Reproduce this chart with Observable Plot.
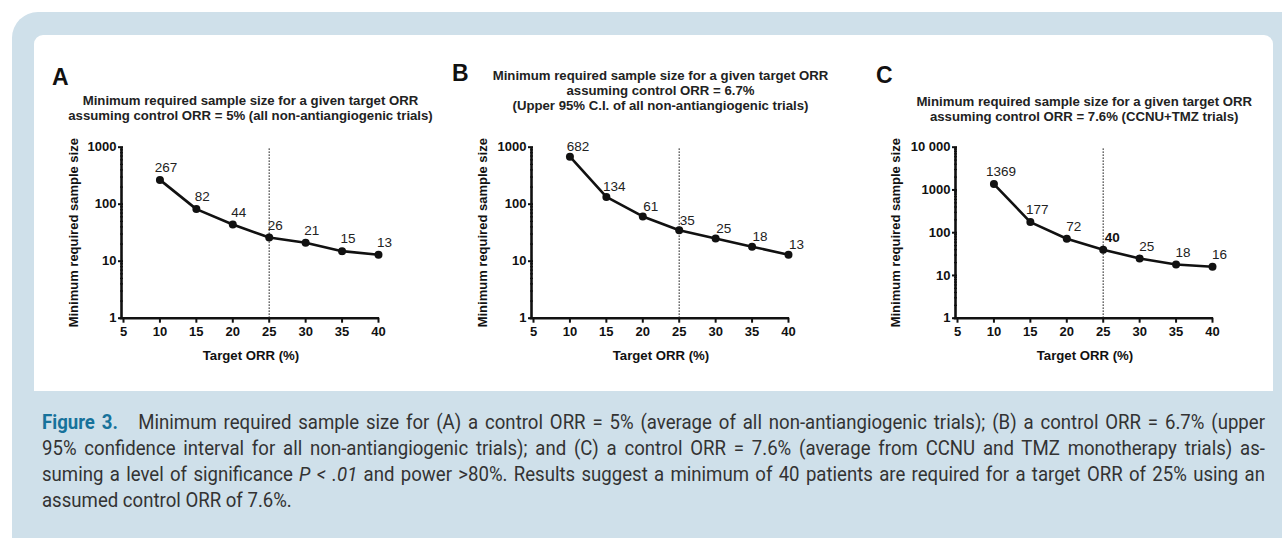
<!DOCTYPE html>
<html><head><meta charset="utf-8">
<script src="https://cdn.jsdelivr.net/npm/d3@7"></script>
<script src="https://cdn.jsdelivr.net/npm/@observablehq/plot@0.6"></script>
<style>
html,body{margin:0;padding:0;width:1282px;height:538px;overflow:hidden;background:#fff;font-family:"Liberation Sans",Arial,sans-serif;}
#bg{position:absolute;left:12px;top:12px;width:1300px;height:560px;background:#cfe0ea;border-radius:26px;}
#panel{position:absolute;left:34px;top:35px;width:1239px;height:356px;background:#fff;border-radius:9px 9px 0 0;}
.letter{position:absolute;font-weight:bold;font-size:23px;line-height:22px;color:#111;}
.title{position:absolute;font-weight:bold;font-size:13.2px;line-height:15px;text-align:center;color:#222;white-space:nowrap;transform:translateX(-50%);}
.chart{position:absolute;top:120px;}
#caption{position:absolute;left:42px;top:409px;width:1315px;font-family:Roboto,"Liberation Sans",sans-serif;font-size:20px;line-height:26px;color:#333;transform:scaleX(0.93);transform-origin:0 0;}
#caption div{white-space:nowrap;text-align:justify;text-align-last:justify;}
#caption div.last{text-align-last:left;}
#caption .fig{color:#17729b;font-weight:bold;margin-right:22px;}
</style>
</head><body>
<div id="bg"></div>
<div id="panel"></div>
<div id="root"></div>
<div id="caption"></div>
<script>
// ---- data ----
const targetORR = [10, 15, 20, 25, 30, 35, 40];
const sampleA = [267, 82, 44, 26, 21, 15, 13];
const sampleB = [682, 134, 61, 35, 25, 18, 13];
const sampleC = [1369, 177, 72, 40, 25, 18, 16];
const xTicks = [5, 10, 15, 20, 25, 30, 35, 40];
const yTicksAB = [1, 10, 100, 1000];
const yTickLabelsAB = ["1", "10", "100", "1000"];
const yTicksC = [1, 10, 100, 1000, 10000];
const yTickLabelsC = ["1", "10", "100", "1000", "10 000"];
const thresholdORR = 25;
const xTitle = "Target ORR (%)";
const yTitle = "Minimum required sample size";
const titlesA = ["Minimum required sample size for a given target ORR", "assuming control ORR = 5% (all non-antiangiogenic trials)"];
const titlesB = ["Minimum required sample size for a given target ORR", "assuming control ORR = 6.7%", "(Upper 95% C.I. of all non-antiangiogenic trials)"];
const titlesC = ["Minimum required sample size for a given target ORR", "assuming control ORR = 7.6% (CCNU+TMZ trials)"];
const captionLines = [
  ["Figure 3.", "Minimum required sample size for (A) a control ORR = 5% (average of all non-antiangiogenic trials); (B) a control ORR = 6.7% (upper"],
  [null, "95% confidence interval for all non-antiangiogenic trials); and (C) a control ORR = 7.6% (average from CCNU and TMZ monotherapy trials) as-"],
  [null, "suming a level of significance <i>P</i> <i>&lt; .01</i> and power &gt;80%. Results suggest a minimum of 40 patients are required for a target ORR of 25% using an"],
  [null, "assumed control ORR of 7.6%."]
];

const panels = [
  {letter: "A", values: sampleA, titles: titlesA, yTicks: yTicksAB, yLabels: yTickLabelsAB,
   plotLeft: 123, letterPos: [52, 66], titleTop: 92.5, yTitleDx: -50, lab: [6, -12], bold: null},
  {letter: "B", values: sampleB, titles: titlesB, yTicks: yTicksAB, yLabels: yTickLabelsAB,
   plotLeft: 533, letterPos: [452, 62], titleTop: 67.5, yTitleDx: -51, lab: [8, -10], bold: null},
  {letter: "C", values: sampleC, titles: titlesC, yTicks: yTicksC, yLabels: yTickLabelsC,
   plotLeft: 956.7, letterPos: [876, 64], titleTop: 93.5, yTitleDx: -62, lab: [7, -12], bold: 25}
];

const root = document.getElementById("root");
const ML = 95, MR = 40, W = 390, H = 260, MT = 26.7, MB = 62.3;

for (const p of panels) {
  const rows = targetORR.map((x, i) => ({orr: x, n: p.values[i]}));
  const ymax = p.yTicks[p.yTicks.length - 1];
  const minor = [];
  for (let d = 1; d < ymax; d *= 10) for (let k = 2; k <= 9; k++) minor.push(d * k);

  const letter = document.createElement("div");
  letter.className = "letter";
  letter.style.left = p.letterPos[0] + "px";
  letter.style.top = p.letterPos[1] + "px";
  letter.textContent = p.letter;
  root.appendChild(letter);

  const title = document.createElement("div");
  title.className = "title";
  title.style.left = (p.plotLeft + 127.5) + "px";
  title.style.top = p.titleTop + "px";
  title.innerHTML = p.titles.join("<br>");
  root.appendChild(title);

  const labelFormat = new Map(p.yTicks.map((t, i) => [t, p.yLabels[i]]));
  const chart = Plot.plot({
    width: W, height: H,
    marginLeft: ML, marginRight: MR, marginTop: MT, marginBottom: MB,
    style: {fontFamily: "'Liberation Sans', Arial, sans-serif", color: "#111", background: "transparent", overflow: "visible"},
    x: {domain: [5, 40]},
    y: {type: "log", domain: [1, ymax]},
    marks: [
      Plot.axisY(minor, {tickSize: 3, strokeWidth: 1.2, text: null, label: null}),
      Plot.axisY(p.yTicks, {tickSize: 5, strokeWidth: 2, tickPadding: 2, tickFormat: d => labelFormat.get(d), fontSize: 13, fontWeight: "bold", label: null}),
      Plot.axisX(xTicks, {tickSize: 5, strokeWidth: 2, tickPadding: 3.5, fontSize: 13, fontWeight: "bold", label: null}),
      Plot.ruleX([5], {y1: 1, y2: ymax, strokeWidth: 2.6, dx: -2, stroke: "#111"}),
      Plot.ruleY([1], {x1: 5, x2: 40, strokeWidth: 2.6, stroke: "#111", insetLeft: -3.3, insetRight: -1}),
      Plot.ruleX([thresholdORR], {y1: 1, y2: ymax, stroke: "#222", strokeWidth: 1.3, strokeDasharray: "1.3,1.7"}),
      Plot.line(rows, {x: "orr", y: "n", stroke: "#111", strokeWidth: 2.6}),
      Plot.dot(rows, {x: "orr", y: "n", r: 4, fill: "#111"}),
      Plot.text(rows.filter(d => d.orr !== p.bold), {x: "orr", y: "n", text: d => String(d.n), dx: p.lab[0], dy: p.lab[1], fontSize: 13.5, fill: "#222"}),
      Plot.text(rows.filter(d => d.orr === p.bold), {x: "orr", y: "n", text: d => String(d.n), dx: p.lab[0] + 2, dy: p.lab[1], fontSize: 13.5, fontWeight: "bold", fill: "#111"}),
      Plot.text([yTitle], {x: () => 5, y: () => Math.sqrt(ymax), dx: p.yTitleDx, rotate: -90, fontSize: 13, fontWeight: "bold", fill: "#111"}),
      Plot.text([xTitle], {x: () => 22.5, y: () => 1, dy: 37.5, fontSize: 13.2, fontWeight: "bold", fill: "#111"})
    ]
  });
  chart.classList.add("chart");
  chart.style.left = (p.plotLeft - ML) + "px";
  root.appendChild(chart);
}

const cap = document.getElementById("caption");
captionLines.forEach((ln, i) => {
  const div = document.createElement("div");
  if (i === captionLines.length - 1) div.className = "last";
  div.innerHTML = (ln[0] ? `<span class="fig">${ln[0]}</span>` : "") + ln[1];
  cap.appendChild(div);
});
</script>
</body></html>
